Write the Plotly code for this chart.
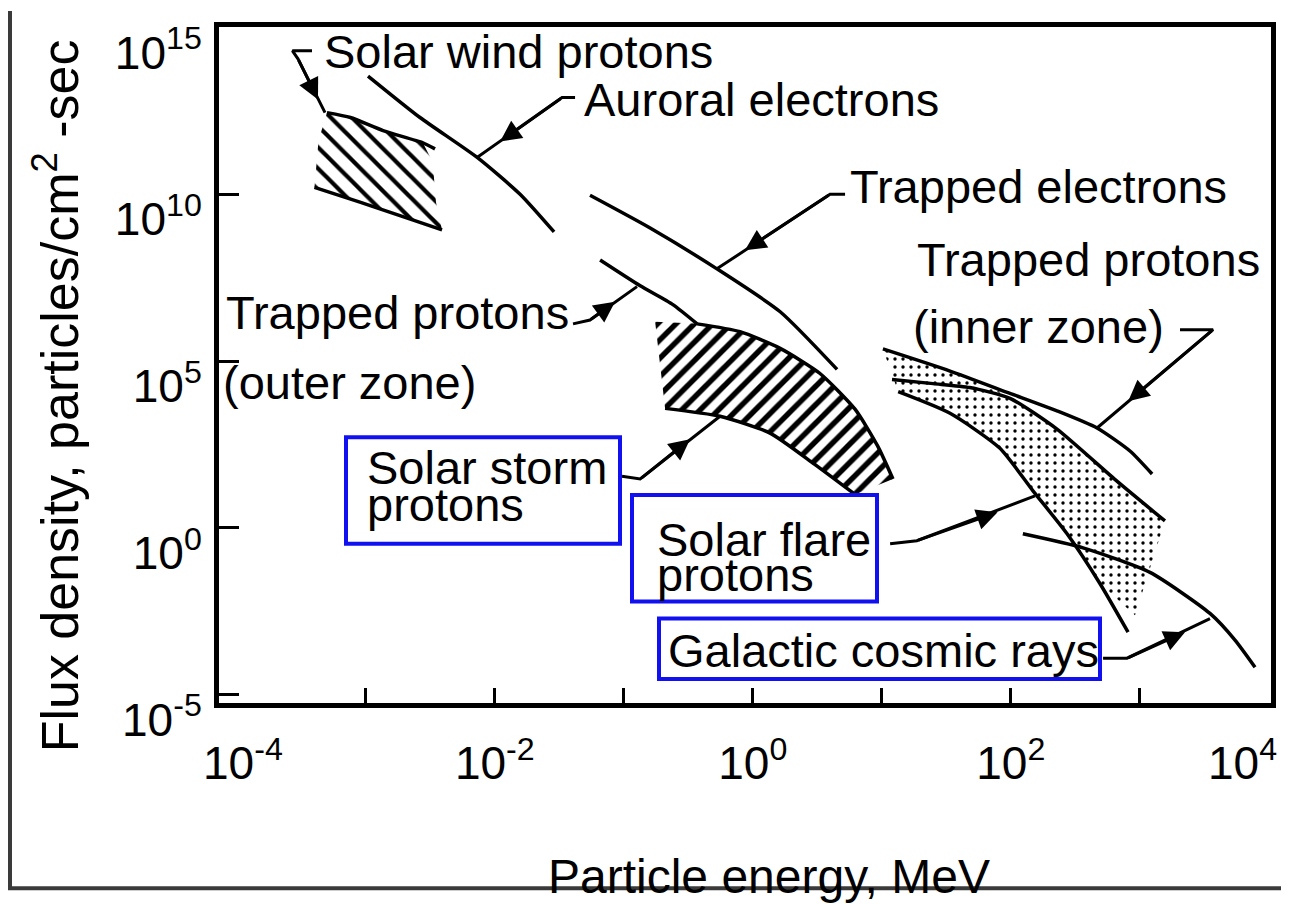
import math
import plotly.graph_objects as go

# particle energy (MeV) / flux density (particles/cm^2-sec)

# solar wind protons, hatched band
wind_band_E = [5.0e-4, 7.6e-4, 1.36e-3, 2.77e-3, 3.3e-3, 3.5e-3, 3.9e-3, 1.84e-3, 9.0e-4, 4.0e-4, 4.3e-4]
wind_band_F = [2.8e12, 2.0e12, 8.1e11, 3.5e11, 9.1e10, 5.8e9, 8.5e8, 2.3e9, 5.8e9, 1.6e10, 4.1e11]
wind_top_E = [5.0e-4, 7.6e-4, 1.36e-3, 2.77e-3, 3.44e-3]
wind_top_F = [2.8e12, 2.0e12, 8.1e11, 3.5e11, 2.3e11]
wind_low_E = [4.0e-4, 9.0e-4, 1.84e-3, 3.9e-3]
wind_low_F = [1.6e10, 5.8e9, 2.3e9, 8.5e8]

# auroral electrons
auroral_E = [1.04e-3, 2.63e-3, 7.3e-3, 1.57e-2, 2.88e-2]
auroral_F = [3.5e13, 2.0e12, 1.27e11, 1.0e10, 7.4e8]

# trapped electrons
trap_el_E = [0.0547, 0.16, 0.527, 1.63, 4.5]
trap_el_F = [9.3e9, 9.7e8, 5.8e7, 3.0e6, 5.6e4]

# trapped protons (outer zone)
outer_E = [0.0655, 0.134, 0.24, 0.37]
outer_F = [1.07e8, 1.8e7, 4.9e6, 1.3e6]

# solar storm protons, hatched band
storm_band_E = [0.175, 0.39, 0.796, 1.63, 3.3, 6.2, 9.3, 12.2, 6.2, 3.0, 1.36, 0.557, 0.209]
storm_band_F = [1.5e6, 1.3e6, 7.6e5, 2.4e5, 4.3e4, 3.6e3, 280, 29, 10, 81, 690, 2.2e3, 3.8e3]
storm_top_E = [0.37, 0.796, 1.63, 3.3, 6.2, 9.3, 12.2]
storm_top_F = [1.3e6, 7.6e5, 2.4e5, 4.3e4, 3.6e3, 280, 29]
storm_low_E = [0.209, 0.557, 1.36, 3.0, 6.2]
storm_low_F = [3.8e3, 2.2e3, 690, 81, 10]

# trapped protons (inner zone)
inner_E = [10.2, 33.8, 98.6, 228, 466, 839, 1245]
inner_F = [2.3e5, 5.0e4, 1.07e4, 3.2e3, 980, 200, 41]

# solar flare protons, dotted band and its two edges
flare_band_E = [10.2, 33.8, 98.6, 228, 665, 1567, 918, 492, 273, 149, 82, 33.8, 13.4]
flare_band_F = [2.3e5, 5.0e4, 9.0e3, 910, 25, 1.6, 2.4e-3, 0.021, 0.66, 12.6, 245, 2.7e3, 1.2e4]
flare_up_E = [12.0, 25, 48, 98.6, 228, 665, 1567]
flare_up_F = [2.8e4, 2.1e4, 1.6e4, 7.6e3, 910, 25, 1.6]
flare_low_E = [13.4, 33.8, 82, 149, 273, 492, 811]
flare_low_F = [1.2e4, 2.7e3, 245, 12.6, 0.66, 0.021, 7.4e-4]

# galactic cosmic rays
gcr_E = [124, 363, 1200, 3500, 5470, 7820]
gcr_F = [0.66, 0.25, 0.046, 2.7e-3, 4.3e-4, 6.6e-5]

# leader lines from the labels (E list, F list, arrow head E, F)
leaders = {
    "wind": ([3.83e-4, 2.7e-4, 2.98e-4, 4.83e-4], [2.0e14, 2.0e14, 1.15e14, 2.8e12], 4.26e-4, 6.9e12),
    "auroral": ([0.0419, 0.0332, 7.28e-3], [7.9e12, 7.9e12, 1.27e11], 0.011, 3.8e11),
    "trap_el": ([5.19, 3.97, 0.527], [1.0e10, 1.0e10, 5.8e7], 0.87, 2.1e8),
    "outer": ([0.0404, 0.0547, 0.1265], [1.3e6, 1.7e6, 1.7e7], 0.0855, 6.0e6),
    "storm": ([0.0968, 0.134, 0.557], [35, 29, 2.2e3], 0.326, 455),
    "flare": ([11.6, 18.7, 154], [0.33, 0.41, 9.0], 79, 2.9),
    "gcr": ([519, 796, 3500], [1.23e-4, 1.23e-4, 1.9e-3], 2240, 7.4e-4),
    "inner": ([2050, 3700, 466], [8.7e5, 8.7e5, 980], 813, 6.2e3),
}

x_ticks = [1e-3, 1e-2, 1e-1, 1, 1e1, 1e2, 1e3]
x_text = ["", "10<sup>-2</sup>", "", "10<sup>0</sup>", "", "10<sup>2</sup>", ""]
x_end_labels = [(1e-4, "10<sup>-4</sup>"), (1e4, "10<sup>4</sup>")]
y_ticks = [1e-5, 1, 1e5, 1e10, 1e15]
y_text = ["10<sup>-5</sup>", "10<sup>0</sup>", "10<sup>5</sup>", "10<sup>10</sup>", "10<sup>15</sup>"]

FONT = "Liberation Sans, Arial, sans-serif"
OFF = 8                                   # page body margin
PL, PR, PT, PB = 219, 1271, 24, 703       # plot area on the page


def px(x):
    return (x - PL) / (PR - PL)


def py(y):
    return (PB - y) / (PB - PT)


fig = go.Figure()


def band(E, F, shape, size, solid):
    fig.add_trace(go.Scatter(
        x=E, y=F, mode="lines", fill="toself", fillcolor="black",
        line=dict(width=0, color="black"),
        fillpattern=dict(shape=shape, size=size, solidity=solid, fgopacity=1,
                         fgcolor="black", bgcolor="white"),
        hoverinfo="skip"))


def curve(E, F, w=3.5):
    fig.add_trace(go.Scatter(x=E, y=F, mode="lines",
                             line=dict(color="black", width=w, shape="spline", smoothing=0.6),
                             hoverinfo="skip"))


band(wind_band_E, wind_band_F, "\\", 15, 0.28)
band(storm_band_E, storm_band_F, "/", 13, 0.42)
band(flare_band_E, flare_band_F, ".", 8, 0.14)

for E, F in [(wind_top_E, wind_top_F), (wind_low_E, wind_low_F), (auroral_E, auroral_F),
             (trap_el_E, trap_el_F), (outer_E, outer_F), (storm_top_E, storm_top_F),
             (storm_low_E, storm_low_F), (inner_E, inner_F), (flare_up_E, flare_up_F),
             (flare_low_E, flare_low_F), (gcr_E, gcr_F)]:
    curve(E, F)

annotations = []
for name, (E, F, hx, hy) in leaders.items():
    fig.add_trace(go.Scatter(x=E, y=F, mode="lines", line=dict(color="black", width=3),
                             hoverinfo="skip"))
    annotations.append(dict(
        x=math.log10(hx), y=math.log10(hy), ax=math.log10(E[-2]), ay=math.log10(F[-2]),
        xref="x", yref="y", axref="x", ayref="y", text="", showarrow=True,
        arrowhead=2, arrowsize=1.4, arrowwidth=3, arrowcolor="black", standoff=0))

labels = [
    ("Solar wind protons", 322, 49),
    ("Auroral electrons", 582, 97),
    ("Trapped electrons", 848, 184),
    ("Trapped protons", 915, 258),
    ("(inner zone)", 911, 325),
    ("Trapped protons", 224, 311),
    ("(outer zone)", 221, 381),
    ("Solar storm", 365, 466),
    ("protons", 365, 504),
    ("Solar flare", 655, 539),
    ("protons", 655, 574),
    ("Galactic cosmic rays", 666, 650),
]
for text, x, y in labels:
    annotations.append(dict(x=px(x), y=py(y), xref="paper", yref="paper", text=text,
                            showarrow=False, xanchor="left", yanchor="middle",
                            font=dict(family=FONT, size=47, color="black")))

for (val, text), shift in zip(x_end_labels, [6, -26]):
    annotations.append(dict(x=math.log10(val), y=py(760), xref="x", yref="paper", text=text,
                            xshift=shift, showarrow=False, xanchor="center", yanchor="middle",
                            font=dict(family=FONT, size=46, color="black")))

annotations.append(dict(x=px(769), y=py(877), xref="paper", yref="paper",
                        text="Particle energy, MeV", showarrow=False,
                        xanchor="center", yanchor="middle",
                        font=dict(family=FONT, size=48, color="black")))
annotations.append(dict(x=px(57), y=py(395), xref="paper", yref="paper",
                        text="Flux density, particles/cm<sup>2</sup> -sec", textangle=-90,
                        showarrow=False, xanchor="center", yanchor="middle",
                        font=dict(family=FONT, size=52, color="black")))

shapes = []
# blue highlight boxes
for x0, y0, x1, y1 in [(346, 436, 620, 543), (632, 494, 877, 601), (659, 618, 1100, 679)]:
    shapes.append(dict(type="rect", xref="paper", yref="paper", x0=px(x0), x1=px(x1),
                       y0=py(y0), y1=py(y1), line=dict(color="#1010f0", width=4), layer="above"))
# page frame of the scan
shapes += [
    dict(type="line", xref="paper", yref="paper", x0=px(10), x1=px(10), y0=py(8), y1=py(890),
         line=dict(color="#3a3a3a", width=4), layer="below"),
    dict(type="line", xref="paper", yref="paper", x0=px(8), x1=px(1300), y0=py(889), y1=py(889),
         line=dict(color="#3a3a3a", width=4), layer="below"),
]

fig.update_layout(
    width=1289, height=904,
    margin=dict(l=PL - OFF, r=1289 - (PR - OFF), t=PT - OFF, b=904 - (PB - OFF)),
    paper_bgcolor="white", plot_bgcolor="white",
    showlegend=False,
    annotations=annotations, shapes=shapes,
    xaxis=dict(type="log", range=[(PL - 752.8) / 129, (PR - 752.8) / 129],
               tickvals=x_ticks, ticktext=x_text, ticks="inside", ticklen=15, tickwidth=3,
               tickcolor="black", showline=True, linewidth=5, linecolor="black", mirror=True,
               showgrid=False, zeroline=False, ticklabelstandoff=16,
               tickfont=dict(family=FONT, size=46, color="black")),
    yaxis=dict(type="log", range=[(527 - PB) / 33.5, (527 - PT) / 33.5],
               tickvals=y_ticks, ticktext=y_text, ticks="inside", ticklen=20, tickwidth=3,
               tickcolor="black", showline=True, linewidth=5, linecolor="black", mirror=True,
               showgrid=False, zeroline=False, ticklabelstandoff=3, ticklabelshift=25,
               tickfont=dict(family=FONT, size=46, color="black")),
)

fig.write_html("out.html")
